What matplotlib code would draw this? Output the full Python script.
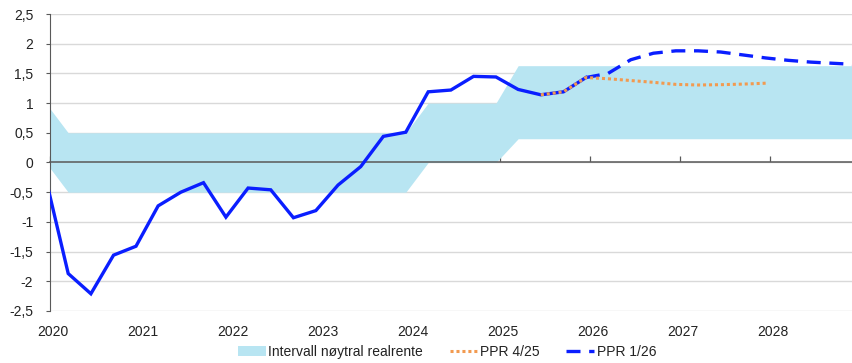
import pandas as pd
import matplotlib.pyplot as plt
from matplotlib.patches import Patch
from matplotlib.lines import Line2D
from matplotlib.ticker import FuncFormatter

plt.rcParams['font.family'] = ['Liberation Sans', 'DejaVu Sans']

# Kvartalstal 2019K4-2028K4, plassert midt i siste måned i kvartalet
kvartal = pd.period_range('2019Q4', '2028Q4', freq='Q')
dato = [pd.Timestamp(p.end_time.year, p.end_time.month, 15) for p in kvartal]

# Intervall for nøytral realrente
band_lav = [0.0,
            -0.5, -0.5, -0.5, -0.5, -0.5, -0.5, -0.5, -0.5,
            -0.5, -0.5, -0.5, -0.5, -0.5, -0.5, -0.5, -0.5,
            0.0, 0.0, 0.0, 0.0,
            0.4, 0.4, 0.4, 0.4, 0.4, 0.4, 0.4, 0.4,
            0.4, 0.4, 0.4, 0.4, 0.4, 0.4, 0.4, 0.4]
band_hoy = [1.0,
            0.5, 0.5, 0.5, 0.5, 0.5, 0.5, 0.5, 0.5,
            0.5, 0.5, 0.5, 0.5, 0.5, 0.5, 0.5, 0.5,
            1.0, 1.0, 1.0, 1.0,
            1.63, 1.63, 1.63, 1.63, 1.63, 1.63, 1.63, 1.63,
            1.63, 1.63, 1.63, 1.63, 1.63, 1.63, 1.63, 1.63]

# Realrente, historikk 2019K4-2025K4
realrente = [-0.27, -1.87, -2.21, -1.56, -1.41, -0.73, -0.50, -0.34, -0.92,
             -0.43, -0.46, -0.93, -0.81, -0.38, -0.07, 0.44, 0.51,
             1.19, 1.22, 1.45, 1.44, 1.23, 1.14, 1.19, 1.43]

# PPR 4/25, 2025K2-2027K4
ppr_425 = [1.14, 1.19, 1.43, 1.41, 1.38, 1.35, 1.315, 1.305, 1.31, 1.32, 1.335]

# PPR 1/26, 2025K4-2028K4
ppr_126 = [1.43, 1.50, 1.73, 1.84, 1.88, 1.88, 1.86, 1.81, 1.76, 1.72, 1.69, 1.67, 1.65]

blaa = '#0a1eff'
oransje = '#f29a50'
lysblaa = '#b8e5f2'
graa = '#595959'

fig = plt.figure(figsize=(8.53, 3.63), dpi=100)
ax = fig.add_axes([0.0586, 0.1433, 0.9414, 0.8181])

ax.fill_between(dato, band_lav, band_hoy, color=lysblaa, lw=0, zorder=1)

ax.plot(dato[:len(realrente)], realrente, color=blaa, lw=2.4, zorder=4,
        solid_joinstyle='miter')
ax.plot(dato[-len(ppr_126):], ppr_126, color=blaa, lw=2.4, zorder=4,
        dashes=(4.2, 2.6))
ax.plot(dato[22:22 + len(ppr_425)], ppr_425, color=oransje, lw=2.2, zorder=5,
        dashes=(1, 0.95))

ax.set_xlim(pd.Timestamp('2020-01-01'), pd.Timestamp('2028-12-03'))
ax.set_ylim(-2.5, 2.5)

# y-akse med desimalkomma
ax.set_yticks([-2.5, -2, -1.5, -1, -0.5, 0, 0.5, 1, 1.5, 2, 2.5])
ax.yaxis.set_major_formatter(FuncFormatter(lambda v, p: f'{v:g}'.replace('.', ',')))
ax.tick_params(axis='y', length=3, width=0.8, color=graa, pad=9, labelsize=10,
               labelcolor='#222222')
ax.grid(axis='y', color='#d9d9d9', lw=1)
ax.set_axisbelow(True)

for s in ['top', 'right']:
    ax.spines[s].set_visible(False)
ax.spines['left'].set_color(graa)
ax.spines['bottom'].set_position(('data', 0))
ax.spines['bottom'].set_color(graa)
ax.spines['bottom'].set_linewidth(1.1)

aar = [pd.Timestamp(f'{y}-01-01') for y in range(2020, 2029)]
ax.set_xticks(aar)
ax.tick_params(axis='x', direction='in', length=4, width=0.9, color=graa,
               labelbottom=False)

# årstall under plottet
sek = ax.secondary_xaxis('bottom')
sek.set_xticks([pd.Timestamp(f'{y}-01-12') for y in range(2020, 2029)])
sek.set_xticklabels([str(y) for y in range(2020, 2029)])
sek.spines['bottom'].set_visible(False)
sek.tick_params(length=0, pad=10, labelsize=10, labelcolor='#222222')

handles = [
    Patch(facecolor=lysblaa, edgecolor='none'),
    Line2D([], [], color=oransje, lw=2.2, dashes=(1, 0.95)),
    Line2D([], [], color=blaa, lw=2.4, dashes=(4.2, 2.6)),
]
fig.legend(handles, ['Intervall nøytral realrente', 'PPR 4/25', 'PPR 1/26'],
           loc='center', bbox_to_anchor=(0.524, 0.03), ncol=3, frameon=False,
           fontsize=10, handlelength=2.0, handletextpad=0.2, columnspacing=1.9,
           labelcolor='#222222')

fig.savefig('out.png', dpi=100)
